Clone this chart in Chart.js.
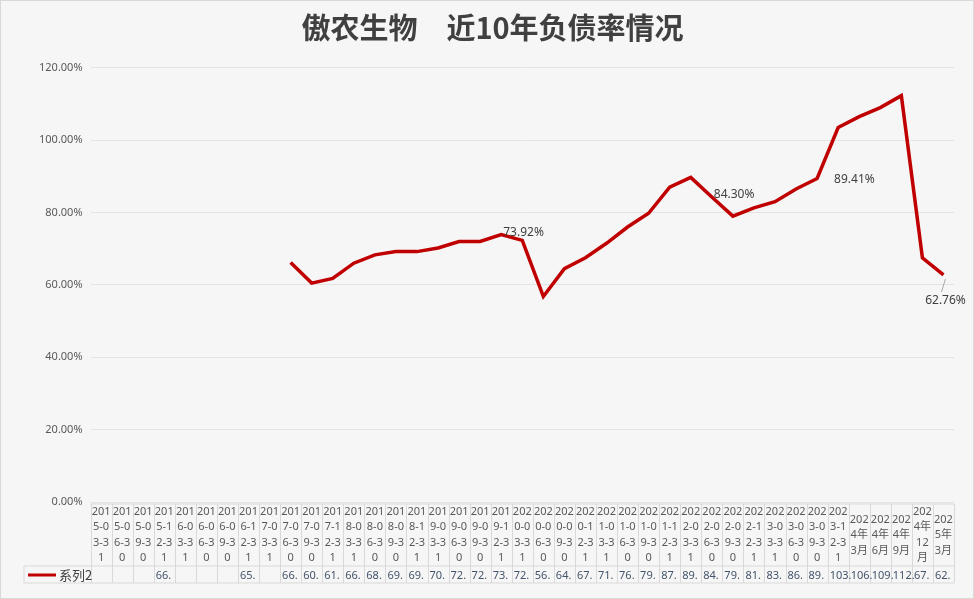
<!DOCTYPE html>
<html><head><meta charset="utf-8">
<script src="https://cdn.jsdelivr.net/npm/chart.js@4"></script>
<style>html,body{margin:0;padding:0;background:#fff}#w{position:absolute;left:0;top:0;width:972px;height:597px;border:1px solid #d9d9d9;background:#f6f6f6}</style>
</head><body><div id="w"><canvas id="c"></canvas></div>
<script>
const categories=["2015-03-31","2015-06-30","2015-09-30","2015-12-31","2016-03-31","2016-06-30","2016-09-30","2016-12-31","2017-03-31","2017-06-30","2017-09-30","2017-12-31","2018-03-31","2018-06-30","2018-09-30","2018-12-31","2019-03-31","2019-06-30","2019-09-30","2019-12-31","2020-03-31","2020-06-30","2020-09-30","2020-12-31","2021-03-31","2021-06-30","2021-09-30","2021-12-31","2022-03-31","2022-06-30","2022-09-30","2022-12-31","2023-03-31","2023-06-30","2023-09-30","2023-12-31","2024年3月","2024年6月","2024年9月","2024年12月","2025年3月"];
const debtRatio=[null,null,null,66.0,null,null,null,65.0,null,66.2,60.5,61.8,66.0,68.3,69.2,69.2,70.2,72.0,72.0,73.92,72.3,56.8,64.5,67.5,71.5,76.0,79.8,87.0,89.7,84.3,79.0,81.3,83.0,86.5,89.41,103.5,106.5,109.0,112.3,67.5,62.76];
const labeledPoints=[19,29,34,40];
const yTicks=[0,20,40,60,80,100,120];
const seriesName="系列2";
const titleText="傲农生物\u3000近10年负债率情况";

const tablePlugin={id:'tbl',afterDraw(ch){
 const c=ch.ctx,x=ch.scales.x,ca=ch.chartArea;
 const top=ca.bottom+2,hb=565,vb=582,left=23;
 const w=x.getPixelForValue(1)-x.getPixelForValue(0);
 c.save();c.strokeStyle='#d9d9d9';c.lineWidth=1;
 const x0=x.getPixelForValue(0)-w/2,x1=x.getPixelForValue(categories.length-1)+w/2;
 c.beginPath();
 c.moveTo(x0,top);c.lineTo(x1,top);c.moveTo(left,hb);c.lineTo(x1,hb);c.moveTo(left,vb);c.lineTo(x1,vb);
 c.moveTo(left,hb);c.lineTo(left,vb);
 for(let i=0;i<=categories.length;i++){const px=Math.round(x0+i*w)+0.5;c.moveTo(px,top);c.lineTo(px,vb);}
 c.stroke();
 c.font='11px "Noto Sans", "Noto Sans CJK SC"';c.textAlign='center';c.textBaseline='middle';
 categories.forEach((lab,i)=>{
  const lines=[];let cur='';
  for(const ch2 of lab){if(c.measureText(cur+ch2).width>20&&cur){lines.push(cur);cur=ch2;}else cur+=ch2;}
  if(cur)lines.push(cur);
  const lh=15.5,cx=x.getPixelForValue(i);
  const start=(top+hb)/2-(lines.length-1)*lh/2;
  c.fillStyle='#595959';
  lines.forEach((l,j)=>c.fillText(l,cx,start+j*lh));
  const v=debtRatio[i];
  if(v!=null){c.fillStyle='#44546a';c.textAlign='left';c.fillText(Math.floor(v)+'.',cx-w/2+2,(hb+vb)/2+1);c.textAlign='center';}
 });
 c.strokeStyle='#c00000';c.lineWidth=3;c.beginPath();c.moveTo(27,574);c.lineTo(55,574);c.stroke();
 c.fillStyle='#404040';c.font='13px "Noto Sans CJK SC"';c.textAlign='left';c.fillText(seriesName,58,574);
 const m=ch.getDatasetMeta(0);c.font='12px "Noto Sans"';c.fillStyle='#404040';
 labeledPoints.forEach(i=>{const p=m.data[i];const t=debtRatio[i].toFixed(2)+'%';
  if(i===categories.length-1){c.textAlign='center';c.fillText(t,p.x+2,p.y+26);c.strokeStyle='#a6a6a6';c.lineWidth=1;c.beginPath();c.moveTo(p.x-2,p.y+17);c.lineTo(p.x+2,p.y+4);c.stroke();}
  else if(i===34){c.textAlign='left';c.fillText(t,p.x+17,p.y+1);}
  else{c.textAlign='left';c.fillText(t,p.x+2,p.y-2);}
 });
 c.restore();
}};
new Chart(document.getElementById('c'),{type:'line',
 data:{labels:categories,datasets:[{label:seriesName,data:debtRatio,borderColor:'#c00000',borderWidth:3.5,pointRadius:0,spanGaps:false,tension:0}]},
 options:{responsive:true,maintainAspectRatio:false,animation:false,
  layout:{padding:{left:30,right:19,top:0,bottom:88}},
  plugins:{legend:{display:false},tooltip:{enabled:false},
   title:{display:true,text:titleText,color:'#404040',font:{size:29,weight:'bold',family:'"Noto Sans CJK SC"'},padding:{top:10,bottom:22}}},
  scales:{x:{offset:true,ticks:{display:false},grid:{display:false},border:{display:false}},
   y:{min:0,max:120,ticks:{stepSize:20,color:'#595959',font:{size:11,family:'"Noto Sans"'},callback:v=>v.toFixed(2)+'%',padding:8},
    afterBuildTicks:s=>{s.ticks=yTicks.map(v=>({value:v}));},
    grid:{color:'#e3e3e3',drawTicks:false},border:{display:false}}}},
 plugins:[tablePlugin]});
</script></body></html>
